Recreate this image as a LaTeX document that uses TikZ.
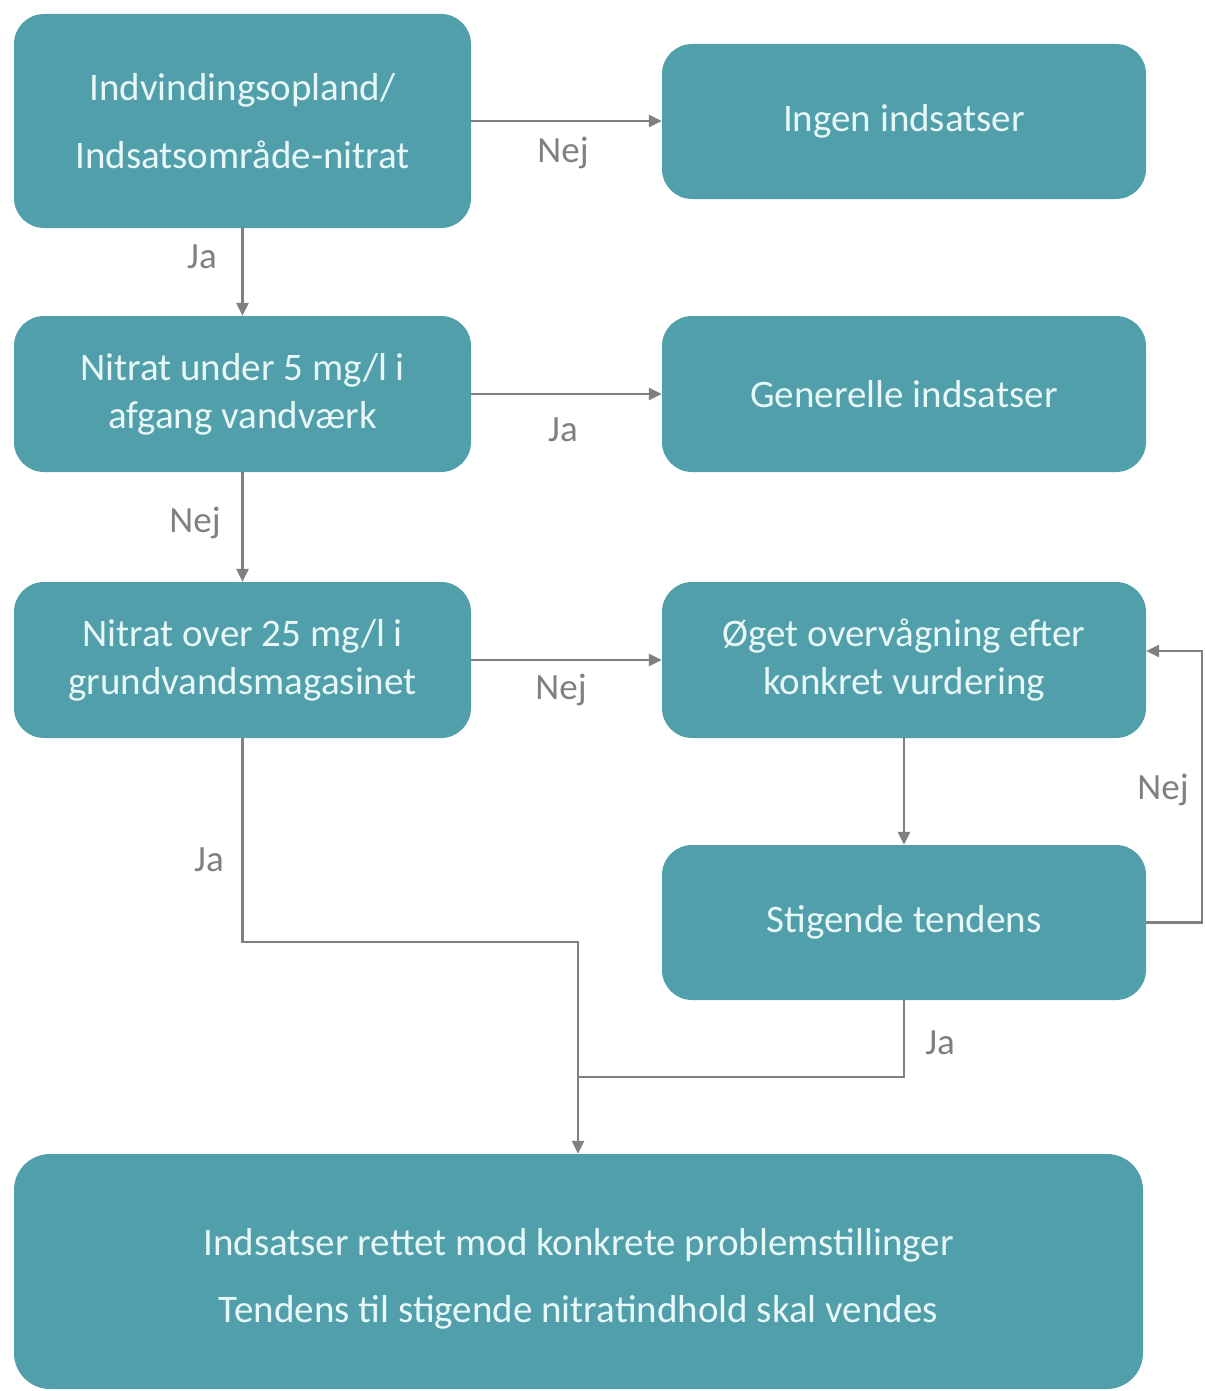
\documentclass[tikz,border=0pt]{standalone}
\usepackage{fontspec}
\setmainfont{Carlito}
\usetikzlibrary{arrows.meta,calc}
\definecolor{boxfill}{RGB}{80,159,170}
\definecolor{boxtext}{RGB}{232,247,247}
\definecolor{linegray}{RGB}{128,128,128}
\begin{document}
\begin{tikzpicture}[x=1pt,y=-1pt,
  flowbox/.style={draw=none,fill=boxfill,rounded corners=30pt,inner sep=0pt,
    text=boxtext,align=center,font=\fontsize{39}{48}\selectfont},
  smallbox/.style={flowbox,minimum width=457pt,minimum height=156pt},
  widebox/.style={flowbox,minimum width=484pt,minimum height=156pt},
  conn/.style={draw=linegray,line width=2.6pt},
  arr/.style={conn,-{Triangle[length=13pt,width=12pt]}},
  lbl/.style={text=linegray,font=\fontsize{37}{40}\selectfont,inner sep=0pt}]
\useasboundingbox (0,0) rectangle (1204,1391);

\node[smallbox,minimum height=214pt,font=\fontsize{39}{68}\selectfont] (b1) at (242.5,121) {Indvindingsopland/\\Indsatsområde-nitrat};
\node[widebox,minimum height=155pt] (b2) at (904,121.5) {Ingen indsatser};
\node[smallbox] (b3) at (242.5,394) {Nitrat under 5 mg/l i\\afgang vandværk};
\node[widebox] (b4) at (904,394) {Generelle indsatser};
\node[smallbox] (b5) at (242.5,660) {Nitrat over 25 mg/l i\\grundvandsmagasinet};
\node[widebox] (b6) at (904,660) {Øget overvågning efter\\konkret vurdering};
\node[widebox,minimum height=155pt] (b7) at (904,922.5) {Stigende tendens};
\node[flowbox,minimum width=1129pt,minimum height=235pt,rounded corners=36pt] (b8) at (578.5,1271.5) {};
\node[text=boxtext,align=center,inner sep=0pt,font=\fontsize{39}{67}\selectfont] (b8t) at (578.5,1279) {Indsatser rettet mod konkrete problemstillinger\\Tendens til stigende nitratindhold skal vendes};

\coordinate (nr) at (1202,651);
\coordinate (j1) at (241,942);
\coordinate (j2) at (578,942);
\coordinate (j3) at (578,1077);

\draw[arr] (b1.east) -- (b1.east -| b2.west);
\draw[arr] (b1.south) -- (b3.north);
\draw[arr] (b3.east) -- (b4.west);
\draw[arr] (b3.south) -- (b5.north);
\draw[arr] (b5.east) -- (b6.west);
\draw[arr] (b6.south) -- (b7.north);
\draw[arr] (b7.east) -- (b7.east -| nr) -- (nr) -- (nr -| b6.east);
\draw[arr] (b5.south) -- (b5.south |- j1) -- (j2) -- (j2 |- b8.north);
\draw[conn] (b7.south) -- (b7.south |- j3) -- (j3);

\node[lbl] (l1) at (563,153) {Nej};
\node[lbl] (l2) at (202,257) {Ja};
\node[lbl] (l3) at (563,430) {Ja};
\node[lbl] (l4) at (195,523) {Nej};
\node[lbl] (l5) at (561,690) {Nej};
\node[lbl] (l6) at (1163,790) {Nej};
\node[lbl] (l7) at (209,860) {Ja};
\node[lbl] (l8) at (940,1043) {Ja};
\end{tikzpicture}
\end{document}
